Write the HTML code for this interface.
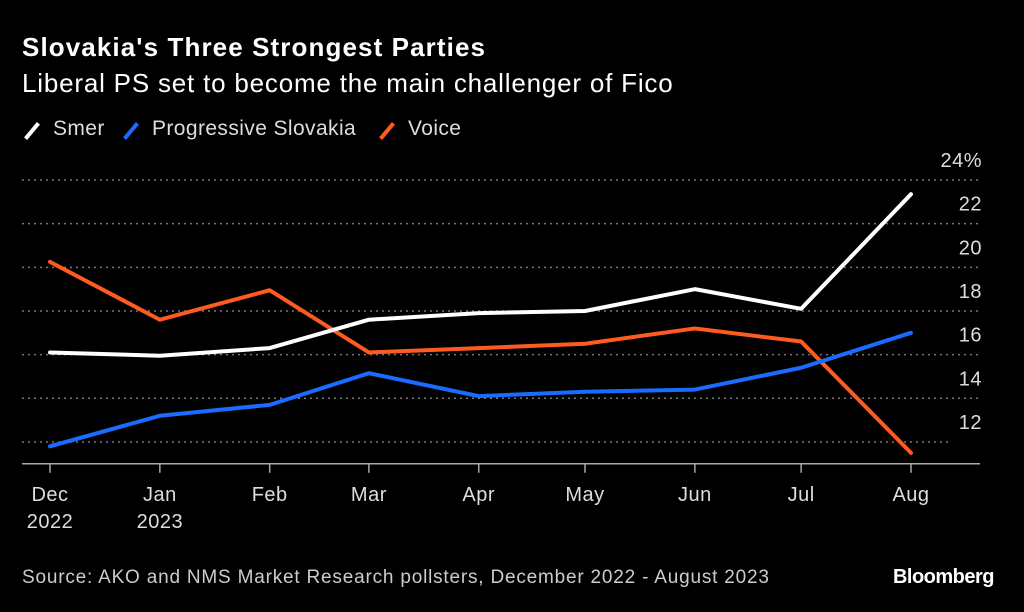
<!DOCTYPE html>
<html><head><meta charset="utf-8">
<style>
html,body{margin:0;padding:0;background:#000;width:1024px;height:612px;overflow:hidden}
body{font-family:"Liberation Sans",sans-serif;color:#fff;position:relative}
.t{position:absolute;white-space:nowrap}
.sw{position:absolute;width:4px;height:20px;transform:rotate(40deg);top:121px}
.lg{position:absolute;top:117px;font-size:21px;color:#ddd;letter-spacing:0.4px;white-space:nowrap}
</style></head><body>
<div class="t" style="left:22px;top:32px;font-size:26px;font-weight:bold;letter-spacing:1.1px">Slovakia's Three Strongest Parties</div>
<div class="t" style="left:22px;top:68px;font-size:26px;letter-spacing:0.8px">Liberal PS set to become the main challenger of Fico</div>
<div>
<div class="sw" style="left:30px;background:#fff"></div>
<div class="lg" style="left:53px">Smer</div>
<div class="sw" style="left:129px;background:#1a6bff"></div>
<div class="lg" style="left:152px">Progressive Slovakia</div>
<div class="sw" style="left:385px;background:#ff5a1f"></div>
<div class="lg" style="left:408px">Voice</div>
</div>
<svg id="chart" width="1024" height="612" style="position:absolute;left:0;top:0"></svg>
<div class="t" style="left:22px;top:567px;font-size:19px;color:#ccc;letter-spacing:0.8px">Source: AKO and NMS Market Research pollsters, December 2022 - August 2023</div>
<div class="t" style="right:30px;top:566px;font-size:20px;font-weight:bold;letter-spacing:-0.5px">Bloomberg</div>
<script>
const months=["Dec","Jan","Feb","Mar","Apr","May","Jun","Jul","Aug"];
const years=["2022","2023","","","","","","",""];
const dayOffsets=[0,31,62,90,121,151,182,212,243];
const smer=[16.1,15.95,16.3,17.6,17.9,18.0,19.0,18.1,23.35];
const ps=[11.8,13.2,13.7,15.15,14.1,14.3,14.4,15.4,17.0];
const voice=[20.25,17.6,18.95,16.1,16.3,16.5,17.2,16.6,11.5];
const yTicks=[24,22,20,18,16,14,12];
const yTickLabels=["24%","22","20","18","16","14","12"];
const NS="http://www.w3.org/2000/svg";
const svg=document.getElementById('chart');
const x=d=>50+d*(861/243);
const y=v=>180+(24-v)*21.83;
function mk(t,a){const e=document.createElementNS(NS,t);for(const k in a)e.setAttribute(k,a[k]);svg.appendChild(e);return e;}
yTicks.forEach((v,i)=>{
  const g=mk('line',{x1:22,x2:v===12?948:980,y1:y(v),y2:y(v),stroke:'#777','stroke-width':1.5,'stroke-dasharray':'2,4'});
  
  
  const t=mk('text',{x:982,y:y(v)-13,'text-anchor':'end',fill:'#ddd','font-size':20,'letter-spacing':0.5,'font-family':'Liberation Sans, sans-serif'});
  t.textContent=yTickLabels[i];
  
  
});
const base=mk('line',{x1:22,x2:980,y1:y(11),y2:y(11),stroke:'#aaa','stroke-width':1.5});


months.forEach((m,i)=>{
  const xx=x(dayOffsets[i]);
  const tk=mk('line',{x1:xx,x2:xx,y1:y(11),y2:y(11)+9,stroke:'#aaa','stroke-width':1.5});
  
  
  const t=mk('text',{x:xx,y:501,'text-anchor':'middle',fill:'#ddd','font-size':20,'letter-spacing':0.5,'font-family':'Liberation Sans, sans-serif'});
  t.textContent=m;
  
  
  if(years[i]){
    const t2=mk('text',{x:xx,y:528,'text-anchor':'middle',fill:'#ddd','font-size':20,'letter-spacing':0.5,'font-family':'Liberation Sans, sans-serif'});
    t2.textContent=years[i];
    
    
  }
});
[[voice,'#ff5a1f','voice'],[smer,'#ffffff','smer'],[ps,'#1a6bff','progressive-slovakia']].forEach(([s,c,n])=>{
  const p=mk('polyline',{points:s.map((v,i)=>x(dayOffsets[i])+','+y(v)).join(' '),fill:'none',stroke:c,'stroke-width':4,'stroke-linejoin':'round','stroke-linecap':'round'});
  
  
});
</script>
</body></html>
